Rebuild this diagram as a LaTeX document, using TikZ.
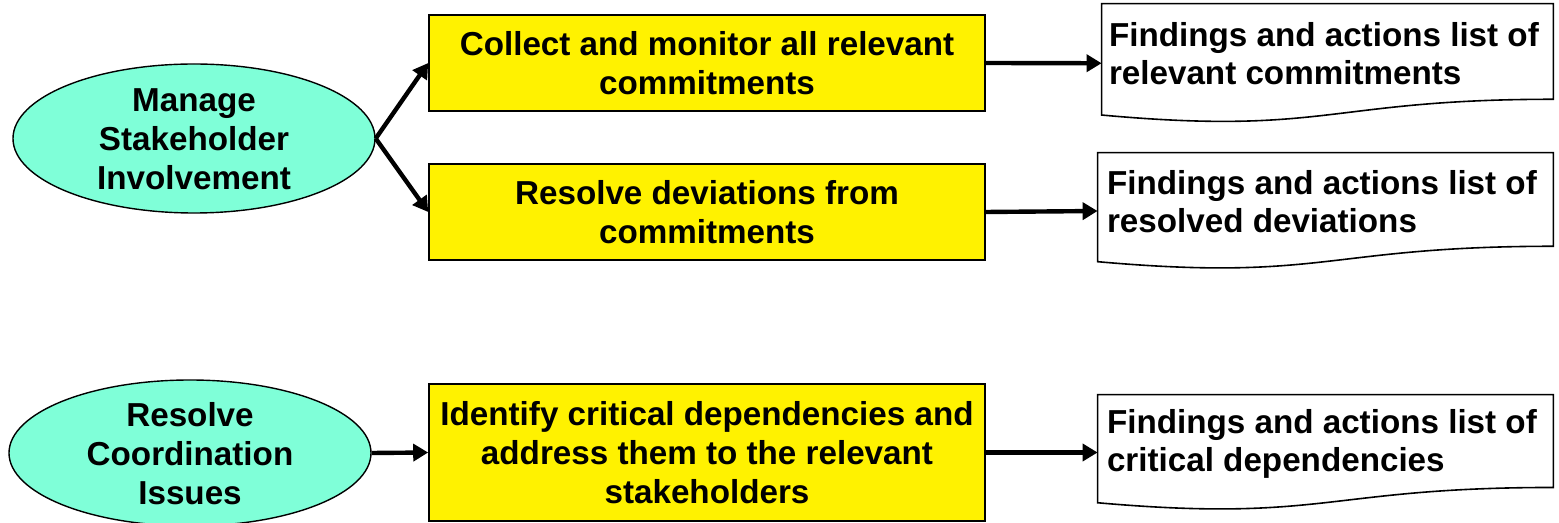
\documentclass[tikz,border=0pt]{standalone}
\usepackage{fontspec}
\setmainfont{Liberation Sans}
\usetikzlibrary{shapes.geometric,arrows.meta,calc}
\definecolor{aqua}{HTML}{7FFFD8}
\newcommand\drawdoc[1]{\draw[docline] (#1.north west) -- (#1.north east) -- ($(#1.north east)!0.802!(#1.south east)$) .. controls ($(#1.north)!0.802!(#1.south)$) and ($(#1.north)!1.1075!(#1.south)$) .. ($(#1.north west)!0.934!(#1.south west)$) -- cycle;}
\begin{document}
\begin{tikzpicture}[x=0.5pt,y=-0.5pt,
  every node/.style={font=\fontsize{16.6}{19.5}\selectfont\bfseries},
  ell/.style={ellipse, draw=black, line width=0.7pt, fill=aqua, inner sep=0pt},
  etext/.style={align=center, inner sep=0pt},
  task/.style={rectangle, draw=black, line width=0.8pt, fill=yellow, minimum width=278pt, inner sep=0pt, align=center},
  doc/.style={rectangle, inner sep=0pt},
  doctext/.style={anchor=west, align=left, inner sep=0pt, font=\fontsize{16.6}{19}\selectfont\bfseries},
  docline/.style={draw=black, line width=0.8pt, fill=white},
  flow/.style={line width=2.2pt, -{Triangle[length=7.5pt,width=8.5pt]}}]
\useasboundingbox (0,0) rectangle (1559,523);

% ellipses
\node[ell, minimum width=181pt, minimum height=74.5pt] (e1) at (194,138.5) {};
\node[etext] (e1t) at ($(e1)+(0,1)$) {Manage\\Stakeholder\\Involvement};
\node[ell, minimum width=181pt, minimum height=73pt] (e2) at (190,453) {};
\node[etext] (e2t) at ($(e2)+(0,1)$) {Resolve\\Coordination\\Issues};

% tasks
\node[task, minimum height=48pt] (b1) at (707,63) {Collect and monitor all relevant\\commitments};
\node[task, minimum height=48pt] (b2) at (707,212) {Resolve deviations from\\commitments};
\node[task, minimum height=68.5pt] (b3) at (707,452.5) {Identify critical dependencies and\\address them to the relevant\\stakeholders};

% documents
\node[doc, minimum width=225.5pt, minimum height=59.25pt] (d1) at (1327.5,63.25) {};
\node[doc, minimum width=227.5pt, minimum height=58pt] (d2) at (1325.5,211) {};
\node[doc, minimum width=227.5pt, minimum height=57.5pt] (d3) at (1325.5,452.5) {};
\drawdoc{d1}
\drawdoc{d2}
\drawdoc{d3}
\node[doctext] (d1t) at ($(d1.north west)+(7,50)$) {Findings and actions list of\\relevant commitments};
\node[doctext] (d2t) at ($(d2.north west)+(9,49)$) {Findings and actions list of\\resolved deviations};
\node[doctext] (d3t) at ($(d3.north west)+(9,49)$) {Findings and actions list of\\critical dependencies};

% connectors
\draw[flow] (e1.east) -- (b1.west);
\draw[flow] (e1.east) -- (b2.west);
\draw[flow] (e2.east) -- (b3.west);
\draw[flow] (b1.east) -- (d1.west);
\draw[flow] (b2.east) -- (d2.west);
\draw[flow] (b3.east) -- (d3.west);
\end{tikzpicture}
\end{document}
